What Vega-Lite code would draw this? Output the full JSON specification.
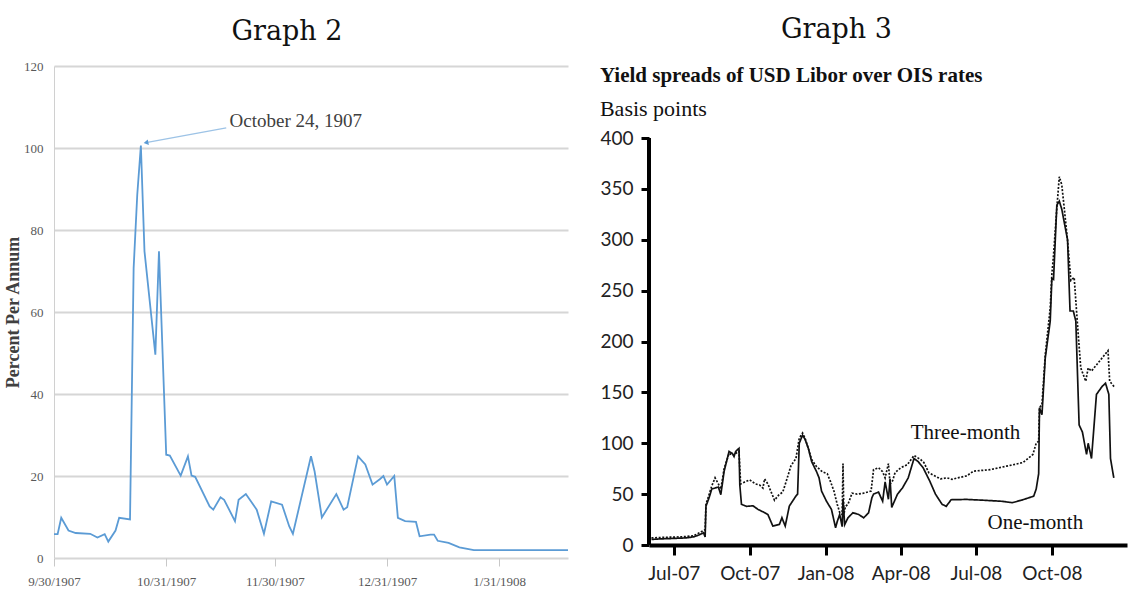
{
  "$schema": "https://vega.github.io/schema/vega-lite/v6.json",
  "background": "white",
  "padding": {"left": 4, "top": 16, "right": 5, "bottom": 0},
  "spacing": 27,
  "config": {"view": {"stroke": null}},
  "datasets": {
    "call": [
      {"date": "1907-09-30", "rate": 5.8}, {"date": "1907-10-01", "rate": 5.8}, {"date": "1907-10-02", "rate": 9.8},
      {"date": "1907-10-04", "rate": 6.7}, {"date": "1907-10-06", "rate": 6.1}, {"date": "1907-10-10", "rate": 5.9},
      {"date": "1907-10-12", "rate": 5.0}, {"date": "1907-10-14", "rate": 5.8}, {"date": "1907-10-15", "rate": 4.0},
      {"date": "1907-10-17", "rate": 6.7}, {"date": "1907-10-18", "rate": 9.8}, {"date": "1907-10-21", "rate": 9.4},
      {"date": "1907-10-22", "rate": 70.7}, {"date": "1907-10-23", "rate": 88.6}, {"date": "1907-10-24", "rate": 100.6},
      {"date": "1907-10-25", "rate": 74.8}, {"date": "1907-10-28", "rate": 49.6}, {"date": "1907-10-29", "rate": 74.8},
      {"date": "1907-10-31", "rate": 25.2}, {"date": "1907-11-01", "rate": 25.0}, {"date": "1907-11-04", "rate": 20.1},
      {"date": "1907-11-06", "rate": 24.8}, {"date": "1907-11-07", "rate": 20.1}, {"date": "1907-11-08", "rate": 19.8},
      {"date": "1907-11-12", "rate": 12.6}, {"date": "1907-11-13", "rate": 11.8}, {"date": "1907-11-15", "rate": 14.8},
      {"date": "1907-11-16", "rate": 14.2}, {"date": "1907-11-19", "rate": 9.0}, {"date": "1907-11-20", "rate": 14.2},
      {"date": "1907-11-22", "rate": 15.6}, {"date": "1907-11-25", "rate": 11.8}, {"date": "1907-11-27", "rate": 5.9},
      {"date": "1907-11-29", "rate": 13.8}, {"date": "1907-12-02", "rate": 13.0}, {"date": "1907-12-04", "rate": 7.7},
      {"date": "1907-12-05", "rate": 5.9}, {"date": "1907-12-10", "rate": 24.8}, {"date": "1907-12-11", "rate": 21.1},
      {"date": "1907-12-13", "rate": 9.9}, {"date": "1907-12-17", "rate": 15.6}, {"date": "1907-12-19", "rate": 11.8},
      {"date": "1907-12-20", "rate": 12.4}, {"date": "1907-12-23", "rate": 24.8}, {"date": "1907-12-25", "rate": 22.8},
      {"date": "1907-12-27", "rate": 17.9}, {"date": "1907-12-29", "rate": 19.2}, {"date": "1907-12-30", "rate": 20.0},
      {"date": "1907-12-31", "rate": 17.9}, {"date": "1908-01-02", "rate": 20.0}, {"date": "1908-01-03", "rate": 9.8},
      {"date": "1908-01-05", "rate": 9.0}, {"date": "1908-01-08", "rate": 8.8}, {"date": "1908-01-09", "rate": 5.3},
      {"date": "1908-01-12", "rate": 5.7}, {"date": "1908-01-13", "rate": 5.7}, {"date": "1908-01-14", "rate": 4.2},
      {"date": "1908-01-17", "rate": 3.7}, {"date": "1908-01-20", "rate": 2.6}, {"date": "1908-01-24", "rate": 1.9},
      {"date": "1908-02-19", "rate": 1.9}
    ],
    "callNote": [
      {"x1": "1907-10-25T10:00:00Z", "y1": 101.3, "x2": "1907-11-16T14:00:00Z", "y2": 104.9, "label": "October 24, 1907", "tx": "1907-11-17T12:00:00Z", "ty": 106.6}
    ],
    "libor": [
      {"date": "2007-06-04", "bp": 5.5, "tenor": "One-month"}, {"date": "2007-06-15", "bp": 6, "tenor": "One-month"},
      {"date": "2007-07-02", "bp": 6.5, "tenor": "One-month"}, {"date": "2007-07-16", "bp": 7, "tenor": "One-month"},
      {"date": "2007-07-25", "bp": 8, "tenor": "One-month"}, {"date": "2007-08-01", "bp": 10, "tenor": "One-month"},
      {"date": "2007-08-06", "bp": 12, "tenor": "One-month"}, {"date": "2007-08-08", "bp": 8, "tenor": "One-month"},
      {"date": "2007-08-09", "bp": 38, "tenor": "One-month"}, {"date": "2007-08-13", "bp": 47, "tenor": "One-month"},
      {"date": "2007-08-16", "bp": 55, "tenor": "One-month"}, {"date": "2007-08-20", "bp": 56, "tenor": "One-month"},
      {"date": "2007-08-24", "bp": 57, "tenor": "One-month"}, {"date": "2007-08-27", "bp": 49.5, "tenor": "One-month"},
      {"date": "2007-08-31", "bp": 72.5, "tenor": "One-month"}, {"date": "2007-09-06", "bp": 92, "tenor": "One-month"},
      {"date": "2007-09-10", "bp": 90, "tenor": "One-month"}, {"date": "2007-09-12", "bp": 87, "tenor": "One-month"},
      {"date": "2007-09-14", "bp": 92, "tenor": "One-month"}, {"date": "2007-09-18", "bp": 95, "tenor": "One-month"},
      {"date": "2007-09-19", "bp": 59, "tenor": "One-month"}, {"date": "2007-09-21", "bp": 40, "tenor": "One-month"},
      {"date": "2007-09-27", "bp": 38, "tenor": "One-month"}, {"date": "2007-10-05", "bp": 38.5, "tenor": "One-month"},
      {"date": "2007-10-11", "bp": 35, "tenor": "One-month"}, {"date": "2007-10-19", "bp": 31.8, "tenor": "One-month"},
      {"date": "2007-10-23", "bp": 30, "tenor": "One-month"}, {"date": "2007-10-29", "bp": 18.6, "tenor": "One-month"},
      {"date": "2007-11-06", "bp": 20.3, "tenor": "One-month"}, {"date": "2007-11-09", "bp": 26.8, "tenor": "One-month"},
      {"date": "2007-11-13", "bp": 18.6, "tenor": "One-month"}, {"date": "2007-11-18", "bp": 38.3, "tenor": "One-month"},
      {"date": "2007-11-26", "bp": 48.2, "tenor": "One-month"}, {"date": "2007-11-28", "bp": 50, "tenor": "One-month"},
      {"date": "2007-11-30", "bp": 100, "tenor": "One-month"}, {"date": "2007-12-04", "bp": 108, "tenor": "One-month"},
      {"date": "2007-12-07", "bp": 104, "tenor": "One-month"}, {"date": "2007-12-11", "bp": 95, "tenor": "One-month"},
      {"date": "2007-12-15", "bp": 82, "tenor": "One-month"}, {"date": "2007-12-21", "bp": 72, "tenor": "One-month"},
      {"date": "2007-12-24", "bp": 66, "tenor": "One-month"}, {"date": "2007-12-27", "bp": 53, "tenor": "One-month"},
      {"date": "2008-01-02", "bp": 43, "tenor": "One-month"}, {"date": "2008-01-08", "bp": 35, "tenor": "One-month"},
      {"date": "2008-01-13", "bp": 17, "tenor": "One-month"}, {"date": "2008-01-15", "bp": 23, "tenor": "One-month"},
      {"date": "2008-01-18", "bp": 30, "tenor": "One-month"}, {"date": "2008-01-21", "bp": 18, "tenor": "One-month"},
      {"date": "2008-01-22", "bp": 45, "tenor": "One-month"}, {"date": "2008-01-24", "bp": 20, "tenor": "One-month"},
      {"date": "2008-01-28", "bp": 26.7, "tenor": "One-month"}, {"date": "2008-02-03", "bp": 31.7, "tenor": "One-month"},
      {"date": "2008-02-10", "bp": 30, "tenor": "One-month"}, {"date": "2008-02-16", "bp": 26.7, "tenor": "One-month"},
      {"date": "2008-02-22", "bp": 31.7, "tenor": "One-month"}, {"date": "2008-02-26", "bp": 46.5, "tenor": "One-month"},
      {"date": "2008-02-28", "bp": 50, "tenor": "One-month"}, {"date": "2008-03-05", "bp": 52, "tenor": "One-month"},
      {"date": "2008-03-10", "bp": 43, "tenor": "One-month"}, {"date": "2008-03-13", "bp": 62, "tenor": "One-month"},
      {"date": "2008-03-17", "bp": 45, "tenor": "One-month"}, {"date": "2008-03-19", "bp": 65, "tenor": "One-month"},
      {"date": "2008-03-21", "bp": 37, "tenor": "One-month"}, {"date": "2008-03-28", "bp": 50, "tenor": "One-month"},
      {"date": "2008-04-03", "bp": 56, "tenor": "One-month"}, {"date": "2008-04-10", "bp": 66, "tenor": "One-month"},
      {"date": "2008-04-17", "bp": 85, "tenor": "One-month"}, {"date": "2008-04-22", "bp": 82, "tenor": "One-month"},
      {"date": "2008-04-28", "bp": 76, "tenor": "One-month"}, {"date": "2008-05-06", "bp": 63, "tenor": "One-month"},
      {"date": "2008-05-13", "bp": 50, "tenor": "One-month"}, {"date": "2008-05-21", "bp": 40, "tenor": "One-month"},
      {"date": "2008-05-26", "bp": 38, "tenor": "One-month"}, {"date": "2008-06-01", "bp": 44.5, "tenor": "One-month"},
      {"date": "2008-06-20", "bp": 44.8, "tenor": "One-month"}, {"date": "2008-07-10", "bp": 44, "tenor": "One-month"},
      {"date": "2008-08-01", "bp": 43, "tenor": "One-month"}, {"date": "2008-08-14", "bp": 41.6, "tenor": "One-month"},
      {"date": "2008-08-25", "bp": 44, "tenor": "One-month"}, {"date": "2008-09-09", "bp": 48, "tenor": "One-month"},
      {"date": "2008-09-12", "bp": 55, "tenor": "One-month"}, {"date": "2008-09-15", "bp": 70, "tenor": "One-month"},
      {"date": "2008-09-16", "bp": 135, "tenor": "One-month"}, {"date": "2008-09-19", "bp": 128, "tenor": "One-month"},
      {"date": "2008-09-23", "bp": 184, "tenor": "One-month"}, {"date": "2008-09-29", "bp": 220, "tenor": "One-month"},
      {"date": "2008-10-01", "bp": 262, "tenor": "One-month"}, {"date": "2008-10-03", "bp": 261, "tenor": "One-month"},
      {"date": "2008-10-07", "bp": 334, "tenor": "One-month"}, {"date": "2008-10-10", "bp": 338, "tenor": "One-month"},
      {"date": "2008-10-13", "bp": 330, "tenor": "One-month"}, {"date": "2008-10-20", "bp": 300, "tenor": "One-month"},
      {"date": "2008-10-23", "bp": 230, "tenor": "One-month"}, {"date": "2008-10-27", "bp": 230, "tenor": "One-month"},
      {"date": "2008-10-30", "bp": 220, "tenor": "One-month"}, {"date": "2008-11-03", "bp": 118, "tenor": "One-month"},
      {"date": "2008-11-07", "bp": 111, "tenor": "One-month"}, {"date": "2008-11-12", "bp": 89, "tenor": "One-month"},
      {"date": "2008-11-14", "bp": 100, "tenor": "One-month"}, {"date": "2008-11-18", "bp": 85, "tenor": "One-month"},
      {"date": "2008-11-24", "bp": 148, "tenor": "One-month"}, {"date": "2008-12-01", "bp": 156, "tenor": "One-month"},
      {"date": "2008-12-05", "bp": 159, "tenor": "One-month"}, {"date": "2008-12-09", "bp": 148, "tenor": "One-month"},
      {"date": "2008-12-11", "bp": 85, "tenor": "One-month"}, {"date": "2008-12-15", "bp": 66, "tenor": "One-month"},

      {"date": "2007-06-04", "bp": 7, "tenor": "Three-month"}, {"date": "2007-06-20", "bp": 7.5, "tenor": "Three-month"},
      {"date": "2007-07-10", "bp": 8, "tenor": "Three-month"}, {"date": "2007-07-25", "bp": 9, "tenor": "Three-month"},
      {"date": "2007-08-01", "bp": 12, "tenor": "Three-month"}, {"date": "2007-08-08", "bp": 15, "tenor": "Three-month"},
      {"date": "2007-08-09", "bp": 40, "tenor": "Three-month"}, {"date": "2007-08-13", "bp": 50, "tenor": "Three-month"},
      {"date": "2007-08-16", "bp": 58, "tenor": "Three-month"}, {"date": "2007-08-20", "bp": 66, "tenor": "Three-month"},
      {"date": "2007-08-24", "bp": 60, "tenor": "Three-month"}, {"date": "2007-08-27", "bp": 55, "tenor": "Three-month"},
      {"date": "2007-08-31", "bp": 75, "tenor": "Three-month"}, {"date": "2007-09-06", "bp": 90, "tenor": "Three-month"},
      {"date": "2007-09-12", "bp": 88, "tenor": "Three-month"}, {"date": "2007-09-14", "bp": 90, "tenor": "Three-month"},
      {"date": "2007-09-18", "bp": 92, "tenor": "Three-month"}, {"date": "2007-09-20", "bp": 60, "tenor": "Three-month"},
      {"date": "2007-09-25", "bp": 62, "tenor": "Three-month"}, {"date": "2007-10-01", "bp": 64, "tenor": "Three-month"},
      {"date": "2007-10-08", "bp": 60, "tenor": "Three-month"}, {"date": "2007-10-13", "bp": 59, "tenor": "Three-month"},
      {"date": "2007-10-17", "bp": 56, "tenor": "Three-month"}, {"date": "2007-10-19", "bp": 65, "tenor": "Three-month"},
      {"date": "2007-10-23", "bp": 60, "tenor": "Three-month"}, {"date": "2007-10-31", "bp": 44, "tenor": "Three-month"},
      {"date": "2007-11-05", "bp": 49, "tenor": "Three-month"}, {"date": "2007-11-10", "bp": 52, "tenor": "Three-month"},
      {"date": "2007-11-14", "bp": 62, "tenor": "Three-month"}, {"date": "2007-11-20", "bp": 78, "tenor": "Three-month"},
      {"date": "2007-11-26", "bp": 85, "tenor": "Three-month"}, {"date": "2007-11-30", "bp": 105, "tenor": "Three-month"},
      {"date": "2007-12-04", "bp": 110, "tenor": "Three-month"}, {"date": "2007-12-07", "bp": 105, "tenor": "Three-month"},
      {"date": "2007-12-11", "bp": 95, "tenor": "Three-month"}, {"date": "2007-12-15", "bp": 84, "tenor": "Three-month"},
      {"date": "2007-12-21", "bp": 77, "tenor": "Three-month"}, {"date": "2007-12-28", "bp": 72, "tenor": "Three-month"},
      {"date": "2008-01-03", "bp": 70, "tenor": "Three-month"}, {"date": "2008-01-07", "bp": 62, "tenor": "Three-month"},
      {"date": "2008-01-11", "bp": 53, "tenor": "Three-month"}, {"date": "2008-01-15", "bp": 40, "tenor": "Three-month"},
      {"date": "2008-01-18", "bp": 32, "tenor": "Three-month"}, {"date": "2008-01-21", "bp": 30, "tenor": "Three-month"},
      {"date": "2008-01-22", "bp": 80, "tenor": "Three-month"}, {"date": "2008-01-23", "bp": 30, "tenor": "Three-month"},
      {"date": "2008-01-25", "bp": 38, "tenor": "Three-month"}, {"date": "2008-01-28", "bp": 40, "tenor": "Three-month"},
      {"date": "2008-02-02", "bp": 51, "tenor": "Three-month"}, {"date": "2008-02-08", "bp": 50, "tenor": "Three-month"},
      {"date": "2008-02-16", "bp": 51, "tenor": "Three-month"}, {"date": "2008-02-25", "bp": 53, "tenor": "Three-month"},
      {"date": "2008-02-28", "bp": 74, "tenor": "Three-month"}, {"date": "2008-03-05", "bp": 76, "tenor": "Three-month"},
      {"date": "2008-03-10", "bp": 72, "tenor": "Three-month"}, {"date": "2008-03-13", "bp": 66, "tenor": "Three-month"},
      {"date": "2008-03-17", "bp": 80, "tenor": "Three-month"}, {"date": "2008-03-19", "bp": 60, "tenor": "Three-month"},
      {"date": "2008-03-22", "bp": 63, "tenor": "Three-month"}, {"date": "2008-03-25", "bp": 71, "tenor": "Three-month"},
      {"date": "2008-04-01", "bp": 76, "tenor": "Three-month"}, {"date": "2008-04-09", "bp": 79, "tenor": "Three-month"},
      {"date": "2008-04-17", "bp": 88, "tenor": "Three-month"}, {"date": "2008-04-25", "bp": 84, "tenor": "Three-month"},
      {"date": "2008-04-29", "bp": 81, "tenor": "Three-month"}, {"date": "2008-05-05", "bp": 71, "tenor": "Three-month"},
      {"date": "2008-05-12", "bp": 68, "tenor": "Three-month"}, {"date": "2008-05-19", "bp": 65, "tenor": "Three-month"},
      {"date": "2008-05-27", "bp": 66, "tenor": "Three-month"}, {"date": "2008-06-02", "bp": 64.5, "tenor": "Three-month"},
      {"date": "2008-06-09", "bp": 66, "tenor": "Three-month"}, {"date": "2008-06-20", "bp": 68, "tenor": "Three-month"},
      {"date": "2008-06-28", "bp": 72.6, "tenor": "Three-month"}, {"date": "2008-07-18", "bp": 74, "tenor": "Three-month"},
      {"date": "2008-08-07", "bp": 77.5, "tenor": "Three-month"}, {"date": "2008-08-27", "bp": 81, "tenor": "Three-month"},
      {"date": "2008-09-08", "bp": 89, "tenor": "Three-month"}, {"date": "2008-09-12", "bp": 100, "tenor": "Three-month"},
      {"date": "2008-09-15", "bp": 102, "tenor": "Three-month"}, {"date": "2008-09-16", "bp": 135, "tenor": "Three-month"},
      {"date": "2008-09-19", "bp": 138, "tenor": "Three-month"}, {"date": "2008-09-23", "bp": 187, "tenor": "Three-month"},
      {"date": "2008-09-29", "bp": 233, "tenor": "Three-month"}, {"date": "2008-10-01", "bp": 266, "tenor": "Three-month"},
      {"date": "2008-10-03", "bp": 285, "tenor": "Three-month"}, {"date": "2008-10-07", "bp": 331, "tenor": "Three-month"},
      {"date": "2008-10-10", "bp": 362, "tenor": "Three-month"}, {"date": "2008-10-13", "bp": 354, "tenor": "Three-month"},
      {"date": "2008-10-16", "bp": 331, "tenor": "Three-month"}, {"date": "2008-10-20", "bp": 299, "tenor": "Three-month"},
      {"date": "2008-10-24", "bp": 260, "tenor": "Three-month"}, {"date": "2008-10-28", "bp": 263, "tenor": "Three-month"},
      {"date": "2008-11-01", "bp": 217, "tenor": "Three-month"}, {"date": "2008-11-05", "bp": 174, "tenor": "Three-month"},
      {"date": "2008-11-11", "bp": 161, "tenor": "Three-month"}, {"date": "2008-11-14", "bp": 174, "tenor": "Three-month"},
      {"date": "2008-11-18", "bp": 171, "tenor": "Three-month"}, {"date": "2008-11-24", "bp": 177, "tenor": "Three-month"},
      {"date": "2008-12-03", "bp": 186, "tenor": "Three-month"}, {"date": "2008-12-08", "bp": 191, "tenor": "Three-month"},
      {"date": "2008-12-10", "bp": 161, "tenor": "Three-month"}, {"date": "2008-12-16", "bp": 155, "tenor": "Three-month"}
    ],
    "liborNote": [
      {"date": "2008-04-13", "bp": 110, "label": "Three-month"},
      {"date": "2008-07-15", "bp": 21.6, "label": "One-month"}
    ],
    "liborAxis": [
      {"date": "2007-06-01", "lo": 0, "hi": 400}
    ]
  },
  "hconcat": [
    {
      "width": 514,
      "height": 492,
      "title": {"text": "Graph 2", "font": "DejaVu Serif", "fontSize": 27, "fontWeight": "normal", "color": "#111111", "anchor": "middle", "offset": 14, "dx": -24},
      "layer": [
        {
          "data": {"name": "call"},
          "mark": {"type": "line", "color": "#5b9bd5", "strokeWidth": 1.8},
          "encoding": {
            "x": {
              "field": "date", "type": "temporal",
              "scale": {"type": "utc", "domain": [{"year": 1907, "month": 9, "date": 30, "utc": true}, {"year": 1908, "month": 2, "date": 19, "utc": true}]},
              "axis": {
                "values": [
                  {"year": 1907, "month": 9, "date": 30, "utc": true},
                  {"year": 1907, "month": 10, "date": 31, "utc": true},
                  {"year": 1907, "month": 11, "date": 30, "utc": true},
                  {"year": 1907, "month": 12, "date": 31, "utc": true},
                  {"year": 1908, "month": 1, "date": 31, "utc": true}
                ],
                "labelExpr": "utcFormat(datum.value, '%-m/%-d/%Y')",
                "title": null, "grid": false, "domain": false,
                "ticks": true, "tickColor": "#c8c8c8", "tickSize": 8, "tickWidth": 1,
                "labelFont": "Liberation Serif", "labelFontSize": 13, "labelColor": "#595959",
                "labelPadding": 9, "labelAngle": 0, "labelFlush": false, "labelOverlap": false, "labelBound": false
              }
            },
            "y": {
              "field": "rate", "type": "quantitative",
              "scale": {"domain": [0, 120]},
              "axis": {
                "values": [0, 20, 40, 60, 80, 100, 120],
                "title": "Percent Per Annum", "titleFont": "Liberation Serif", "titleFontSize": 18, "titleFontWeight": "bold", "titleColor": "#404040", "titlePadding": 1,
                "grid": true, "gridColor": "#d6d6d6", "gridWidth": 2,
                "domain": true, "domainColor": "#d0d0d0", "domainWidth": 1,
                "ticks": false,
                "labelFont": "Liberation Serif", "labelFontSize": 13, "labelColor": "#595959", "labelPadding": 11
              }
            }
          }
        },
        {
          "data": {"name": "callNote"},
          "mark": {"type": "rule", "color": "#9dc3e6", "strokeWidth": 1.3},
          "encoding": {
            "x": {"field": "x1", "type": "temporal"},
            "y": {"field": "y1", "type": "quantitative"},
            "x2": {"field": "x2"},
            "y2": {"field": "y2"}
          }
        },
        {
          "data": {"name": "callNote"},
          "mark": {"type": "point", "shape": "triangle-left", "filled": true, "color": "#5b9bd5", "size": 30, "angle": 349, "opacity": 1},
          "encoding": {
            "x": {"field": "x1", "type": "temporal"},
            "y": {"field": "y1", "type": "quantitative"}
          }
        },
        {
          "data": {"name": "callNote"},
          "mark": {"type": "text", "font": "Liberation Serif", "fontSize": 19, "color": "#404040", "align": "left", "baseline": "middle"},
          "encoding": {
            "x": {"field": "tx", "type": "temporal"},
            "y": {"field": "ty", "type": "quantitative"},
            "text": {"field": "label"}
          }
        }
      ]
    },
    {
      "title": {"text": "Graph 3", "font": "DejaVu Serif", "fontSize": 27, "fontWeight": "normal", "color": "#111111", "anchor": "middle", "offset": 21, "dx": -27},
      "vconcat": [
        {
          "width": 478,
          "height": 479,
          "title": {
            "text": "Yield spreads of USD Libor over OIS rates",
            "subtitle": "Basis points",
            "anchor": "start",
            "font": "Liberation Serif", "fontSize": 21, "fontWeight": "bold", "color": "#111111",
            "subtitleFont": "Liberation Serif", "subtitleFontSize": 22, "subtitleColor": "#111111", "subtitlePadding": 13,
            "offset": -54
          },
          "layer": [
            {
              "data": {"name": "libor"},
              "mark": {"type": "line", "color": "#111111", "strokeWidth": 1.7},
              "encoding": {
                "x": {
                  "field": "date", "type": "temporal",
                  "scale": {"type": "utc", "domain": [{"year": 2007, "month": 6, "date": 1, "utc": true}, {"year": 2008, "month": 12, "date": 31, "utc": true}]},
                  "axis": {
                    "values": [
                      {"year": 2007, "month": 7, "date": 1, "utc": true},
                      {"year": 2007, "month": 10, "date": 1, "utc": true},
                      {"year": 2008, "month": 1, "date": 1, "utc": true},
                      {"year": 2008, "month": 4, "date": 1, "utc": true},
                      {"year": 2008, "month": 7, "date": 1, "utc": true},
                      {"year": 2008, "month": 10, "date": 1, "utc": true}
                    ],
                    "labelExpr": "utcFormat(datum.value, '%b-%y')",
                    "title": null, "grid": false,
                    "domain": true, "domainColor": "#000000", "domainWidth": 4,
                    "ticks": true, "tickColor": "#000000", "tickWidth": 3, "tickSize": 10,
                    "labelFont": "Lato", "labelFontSize": 19, "labelColor": "#222222", "labelPadding": 9,
                    "labelAngle": 0, "labelFlush": false, "labelOverlap": false, "labelBound": false
                  }
                },
                "y": {
                  "field": "bp", "type": "quantitative",
                  "scale": {"domain": [0, 470.8], "nice": false},
                  "axis": {
                    "values": [0, 50, 100, 150, 200, 250, 300, 350, 400],
                    "title": null, "grid": false,
                    "domain": false,
                    "ticks": true, "tickColor": "#000000", "tickWidth": 3, "tickSize": 8,
                    "labelFont": "Lato", "labelFontSize": 19, "labelColor": "#222222", "labelPadding": 8
                  }
                },
                "detail": {"field": "tenor"},
                "strokeDash": {
                  "field": "tenor", "type": "nominal",
                  "scale": {"domain": ["One-month", "Three-month"], "range": [[1, 0], [2, 1.6]]},
                  "legend": null
                },
                "strokeWidth": {
                  "field": "tenor", "type": "nominal",
                  "scale": {"domain": ["One-month", "Three-month"], "range": [1.5, 2]},
                  "legend": null
                }
              }
            },
            {
              "data": {"name": "liborAxis"},
              "mark": {"type": "rule", "color": "#000000", "strokeWidth": 4},
              "encoding": {
                "x": {"field": "date", "type": "temporal"},
                "y": {"field": "lo", "type": "quantitative"},
                "y2": {"field": "hi"}
              }
            },
            {
              "data": {"name": "liborNote"},
              "mark": {"type": "text", "font": "Liberation Serif", "fontSize": 21, "color": "#111111", "align": "left", "baseline": "middle"},
              "encoding": {
                "x": {"field": "date", "type": "temporal"},
                "y": {"field": "bp", "type": "quantitative"},
                "text": {"field": "label"}
              }
            }
          ]
        }
      ]
    }
  ]
}
